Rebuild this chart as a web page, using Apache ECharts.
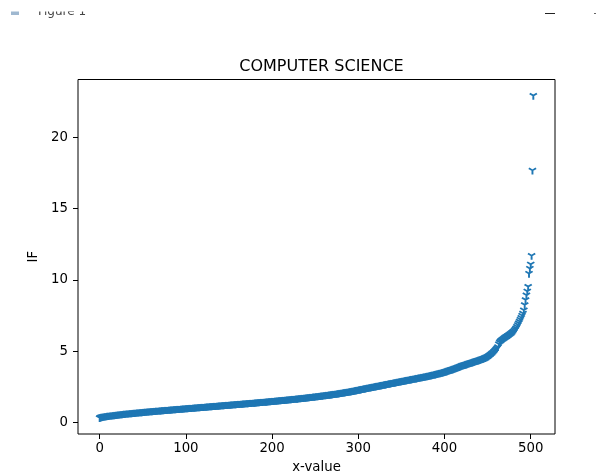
<!DOCTYPE html>
<html>
<head>
<meta charset="utf-8">
<script src="https://cdn.jsdelivr.net/npm/echarts@6/dist/echarts.min.js"></script>
<style>html,body{margin:0;padding:0;background:#fff;}#c{width:600px;height:474px;}</style>
</head>
<body>
<div id="c"></div>
<script>
// Sorted IF values (index = x-value)
const IF = [
0.32,0.35,0.38,0.40,0.41,0.42,0.43,0.44,0.45,0.46,
0.47,0.48,0.49,0.49,0.50,0.51,0.52,0.52,0.53,0.54,
0.55,0.55,0.56,0.57,0.58,0.58,0.59,0.60,0.61,0.61,
0.62,0.63,0.63,0.64,0.65,0.65,0.66,0.66,0.67,0.67,
0.68,0.69,0.69,0.70,0.70,0.71,0.72,0.72,0.73,0.73,
0.74,0.74,0.75,0.76,0.76,0.77,0.78,0.78,0.79,0.79,
0.80,0.80,0.81,0.81,0.82,0.82,0.83,0.83,0.84,0.84,
0.85,0.85,0.86,0.87,0.87,0.88,0.88,0.89,0.89,0.90,
0.90,0.91,0.91,0.92,0.92,0.93,0.93,0.94,0.94,0.95,
0.95,0.96,0.96,0.97,0.97,0.98,0.98,0.99,0.99,1.00,
1.00,1.01,1.01,1.02,1.02,1.03,1.03,1.04,1.04,1.05,
1.05,1.06,1.06,1.07,1.07,1.08,1.08,1.09,1.09,1.10,
1.10,1.11,1.11,1.12,1.12,1.13,1.13,1.14,1.14,1.15,
1.15,1.16,1.16,1.17,1.17,1.18,1.18,1.19,1.19,1.20,
1.20,1.21,1.21,1.22,1.22,1.23,1.23,1.24,1.24,1.25,
1.25,1.26,1.26,1.27,1.27,1.28,1.28,1.29,1.29,1.30,
1.30,1.31,1.31,1.32,1.32,1.33,1.33,1.34,1.34,1.35,
1.35,1.36,1.36,1.37,1.37,1.38,1.38,1.39,1.39,1.40,
1.40,1.41,1.41,1.42,1.43,1.43,1.44,1.44,1.45,1.45,
1.46,1.46,1.47,1.47,1.48,1.48,1.49,1.49,1.50,1.51,
1.51,1.52,1.52,1.53,1.53,1.54,1.55,1.55,1.56,1.56,
1.57,1.58,1.58,1.59,1.59,1.60,1.61,1.61,1.62,1.62,
1.63,1.64,1.64,1.65,1.65,1.66,1.67,1.67,1.68,1.68,
1.69,1.70,1.70,1.71,1.72,1.72,1.73,1.74,1.74,1.75,
1.76,1.76,1.77,1.78,1.79,1.79,1.80,1.81,1.81,1.82,
1.83,1.84,1.84,1.85,1.86,1.87,1.87,1.88,1.89,1.90,
1.91,1.92,1.92,1.93,1.94,1.95,1.96,1.96,1.97,1.98,
1.99,2.00,2.01,2.02,2.03,2.03,2.04,2.05,2.06,2.07,
2.08,2.09,2.10,2.11,2.12,2.13,2.14,2.15,2.16,2.17,
2.18,2.19,2.20,2.21,2.22,2.24,2.25,2.26,2.27,2.28,
2.30,2.31,2.32,2.33,2.35,2.36,2.37,2.38,2.40,2.41,
2.42,2.43,2.44,2.46,2.47,2.48,2.49,2.50,2.52,2.53,
2.54,2.55,2.56,2.58,2.59,2.60,2.61,2.62,2.64,2.65,
2.66,2.67,2.68,2.70,2.71,2.72,2.73,2.74,2.76,2.77,
2.78,2.79,2.80,2.82,2.83,2.84,2.85,2.86,2.88,2.89,
2.90,2.91,2.92,2.94,2.95,2.96,2.97,2.98,3.00,3.01,
3.02,3.03,3.04,3.06,3.07,3.08,3.09,3.10,3.12,3.13,
3.14,3.15,3.16,3.18,3.19,3.20,3.21,3.22,3.24,3.25,
3.26,3.27,3.29,3.30,3.31,3.33,3.34,3.35,3.37,3.38,
3.40,3.41,3.43,3.44,3.46,3.47,3.49,3.50,3.52,3.53,
3.55,3.57,3.59,3.61,3.63,3.65,3.67,3.69,3.71,3.73,
3.75,3.77,3.79,3.81,3.83,3.86,3.88,3.90,3.93,3.95,
3.98,4.00,4.02,4.04,4.06,4.08,4.10,4.12,4.14,4.16,
4.18,4.20,4.22,4.24,4.26,4.28,4.30,4.32,4.34,4.36,
4.38,4.40,4.42,4.44,4.46,4.48,4.51,4.54,4.56,4.59,
4.62,4.66,4.70,4.74,4.79,4.84,4.89,4.95,5.01,5.08,
5.15,5.22,5.30,5.50,5.62,5.70,5.76,5.81,5.85,5.90,
5.95,5.99,6.03,6.07,6.11,6.15,6.19,6.24,6.29,6.33,
6.38,6.45,6.53,6.62,6.73,6.85,6.97,7.09,7.22,7.35,
7.50,7.65,7.88,8.25,8.60,8.93,9.20,9.53,10.45,10.80,
11.10,11.70,17.68,22.93
];
const xTicks = [0, 100, 200, 300, 400, 500];
const yTicks = [0, 5, 10, 15, 20];
const titleText = 'COMPUTER SCIENCE';
const xName = 'x-value';
const yName = 'IF';

const points = IF.map((v, i) => [i, v]);
const n = IF.length;
const xPad = 0.05 * (n - 1);
const yMin = Math.min(...IF), yMax = Math.max(...IF);
const yPad = 0.05 * (yMax - yMin);

const font = 'DejaVu Sans';
const fs = 13.3;
const chart = echarts.init(document.getElementById('c'), null, {renderer: 'canvas'});
chart.setOption({
  animation: false,
  backgroundColor: '#fff',
  title: {
    text: titleText, left: 316.5, textAlign: 'center', top: 54,
    textStyle: {fontFamily: font, fontSize: 16, fontWeight: 'normal', color: '#000'}
  },
  grid: {left: 78, right: 45, top: 79.5, bottom: 40, show: true, borderColor: '#000', borderWidth: 1,
         containLabel: false, outerBoundsMode: 'none'},
  xAxis: {
    type: 'value', min: -xPad, max: (n - 1) + xPad,
    name: xName, nameLocation: 'middle', nameGap: 27,
    nameTextStyle: {fontFamily: font, fontSize: fs, color: '#000'},
    axisLine: {show: false, onZero: false},
    splitLine: {show: false},
    axisTick: {show: true, inside: false, length: 5, lineStyle: {color: '#000', width: 1}, customValues: xTicks},
    axisLabel: {fontFamily: font, fontSize: fs, color: '#000', margin: 8, customValues: xTicks}
  },
  yAxis: {
    type: 'value', min: yMin - yPad, max: yMax + yPad,
    name: yName, nameLocation: 'middle', nameGap: 35, nameRotate: 90,
    nameTextStyle: {fontFamily: font, fontSize: fs, color: '#000'},
    axisLine: {show: false, onZero: false},
    splitLine: {show: false},
    axisTick: {show: true, inside: false, length: 5, lineStyle: {color: '#000', width: 1}, customValues: yTicks},
    axisLabel: {fontFamily: font, fontSize: fs, color: '#000', margin: 10, customValues: yTicks}
  },
  graphic: [
    {type: 'rect', shape: {x: 11, y: 11, width: 8, height: 4}, style: {fill: '#9fb8d0'}, z: 1},
    {type: 'text', x: 38, y: 6, style: {text: 'Figure 1', font: '12px "DejaVu Sans"', fill: '#444'}, z: 1},
    {type: 'rect', shape: {x: 0, y: 0, width: 600, height: 11.5}, style: {fill: '#fff'}, z: 2},
    {type: 'line', shape: {x1: 545, y1: 13.5, x2: 555, y2: 13.5}, style: {stroke: '#222', lineWidth: 1}, z: 3},
    {type: 'line', shape: {x1: 594, y1: 13.5, x2: 596, y2: 13.5}, style: {stroke: '#666', lineWidth: 1}, z: 3}
  ],
  series: [{
    type: 'scatter',
    data: points,
    symbol: 'path://M0,0L0,4M0,0L-3.464,-2M0,0L3.464,-2',
    symbolSize: [7.2, 6.3],
    symbolOffset: [0, 1],
    itemStyle: {color: 'rgba(0,0,0,0)', borderColor: '#1f77b4', borderWidth: 1.8, opacity: 1},
    emphasis: {disabled: true},
    silent: true
  }]
});
</script>
</body>
</html>
